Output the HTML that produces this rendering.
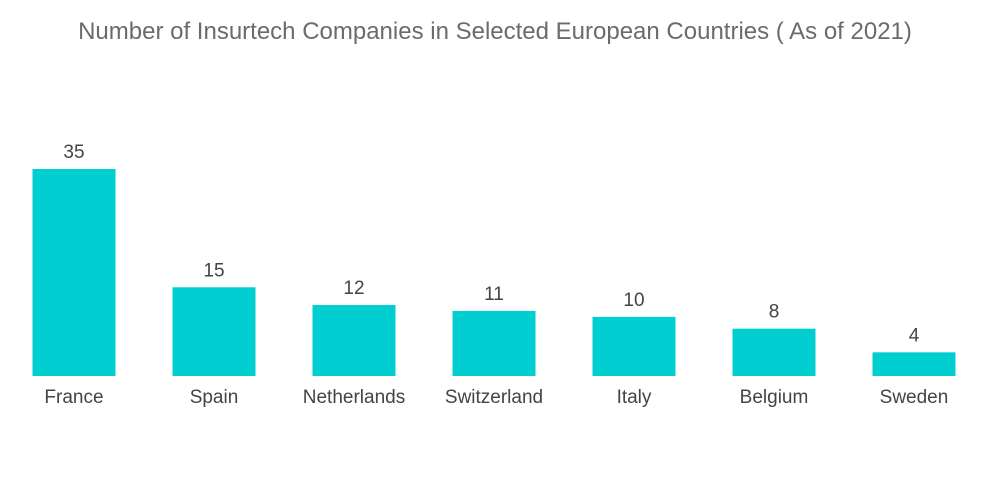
<!DOCTYPE html>
<html>
<head>
<meta charset="utf-8">
<style>
  html,body{margin:0;padding:0;background:#fff;}
  svg{display:block;font-family:"Liberation Sans",sans-serif;}
</style>
</head>
<body>
<svg id="chart" width="1000" height="504" viewBox="0 0 1000 504">
  <text x="495" y="39" text-anchor="middle" font-size="24" fill="#6b6b6b">Number of Insurtech Companies in Selected European Countries ( As of 2021)</text>
  <g id="bars"></g>
</svg>
<script>
const categories = ["France","Spain","Netherlands","Switzerland","Italy","Belgium","Sweden"];
const values = [35,15,12,11,10,8,4];
const valueLabels = ["35","15","12","11","10","8","4"];

const baseY = 376, pxPerUnit = 207/35;
const firstCenter = 74, step = 140, barW = 83;
function xScale(i){ return firstCenter + i*step; }
function yScale(v){ return baseY - v*pxPerUnit; }

const g = document.getElementById('bars');
const ns = "http://www.w3.org/2000/svg";
categories.forEach((c,i)=>{
  const cx = xScale(i), top = yScale(values[i]);
  const r = document.createElementNS(ns,'rect');
  r.setAttribute('x', cx-barW/2);
  r.setAttribute('y', top);
  r.setAttribute('width', barW);
  r.setAttribute('height', baseY-top);
  r.setAttribute('fill', '#00ced1');
  
  
  g.appendChild(r);

  const vt = document.createElementNS(ns,'text');
  vt.setAttribute('x', cx);
  vt.setAttribute('y', top-11);
  vt.setAttribute('text-anchor','middle');
  vt.setAttribute('font-size','19');
  vt.setAttribute('fill','#444');
  vt.textContent = valueLabels[i];
  
  
  g.appendChild(vt);

  const ct = document.createElementNS(ns,'text');
  ct.setAttribute('x', cx);
  ct.setAttribute('y', 403);
  ct.setAttribute('text-anchor','middle');
  ct.setAttribute('font-size','19');
  ct.setAttribute('fill','#444');
  ct.textContent = c;
  
  
  g.appendChild(ct);
});
</script>
</body>
</html>
